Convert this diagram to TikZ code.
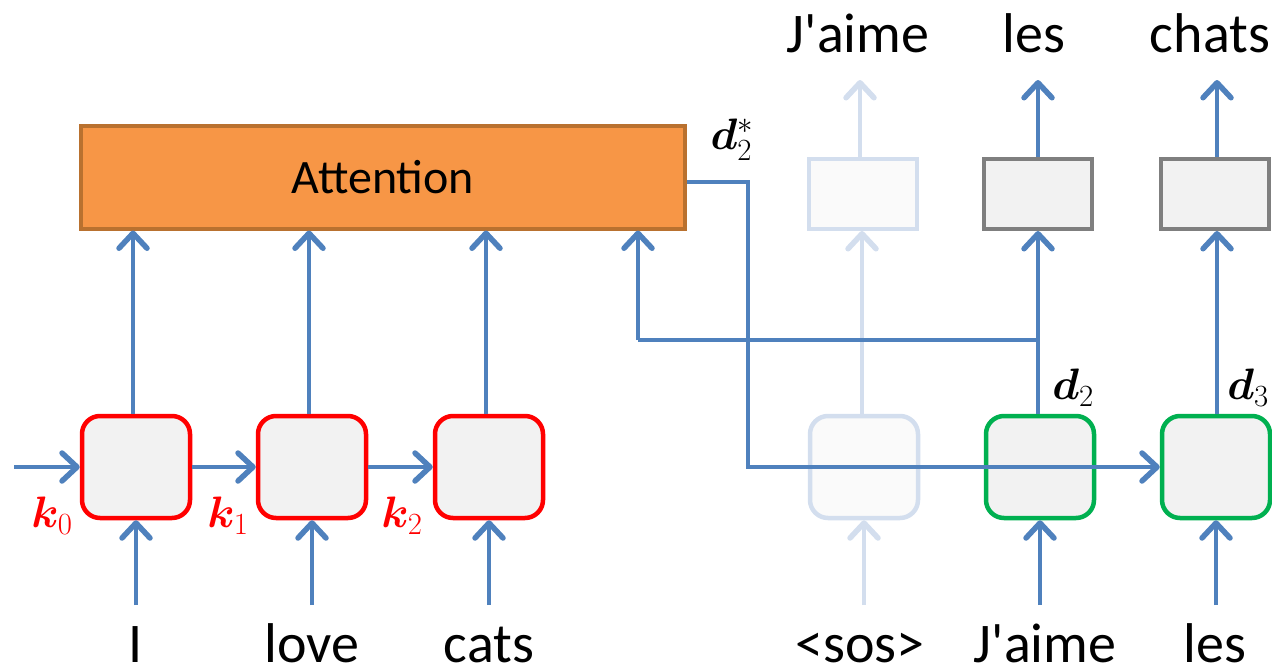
\RequirePackage{fix-cm}
\documentclass[tikz,border=0pt]{standalone}
\usepackage{amsmath,bm}
\usepackage{fontspec}
\setmainfont{Carlito}[Ligatures=TeXOff]
\usetikzlibrary{arrows.meta,calc}
\definecolor{ablue}{HTML}{4F81BD}
\definecolor{fblue}{HTML}{D3DEEE}
\definecolor{boxfill}{HTML}{F2F2F2}
\definecolor{ffill}{HTML}{FAFAFA}
\definecolor{aorange}{HTML}{F79646}
\definecolor{aorangeb}{HTML}{B9712F}
\definecolor{agreen}{HTML}{00B050}
\definecolor{agray}{HTML}{7F7F7F}
\begin{document}
\begin{tikzpicture}[x=1pt,y=-1pt,
  tip/.tip={Straight Barb[length=15pt,width=28pt,line width=1.5pt 1,line cap=round,line join=round]},
  arr/.style={draw=ablue,line width=4pt,-tip},
  ln/.style={draw=ablue,line width=4pt},
  farr/.style={draw=fblue,line width=4pt,-tip},
  rnn/.style={rectangle,rounded corners=18pt,fill=boxfill,line width=4.5pt,minimum width=108pt,minimum height=102pt,inner sep=0pt},
  enc/.style={rnn,draw=red},
  dec/.style={rnn,draw=agreen},
  fdec/.style={rnn,draw=fblue,fill=ffill},
  outb/.style={rectangle,fill=boxfill,draw=agray,line width=4pt,minimum width=108pt,minimum height=70pt,inner sep=0pt},
  foutb/.style={outb,draw=fblue,fill=ffill},
  word/.style={anchor=base,inner sep=0pt,font=\fontsize{56}{62}\selectfont},
  lab/.style={inner sep=0pt,font=\fontsize{44}{50}\selectfont},
]
\useasboundingbox (0,0) rectangle (1272,672);

% encoder
\node[enc] (e1) at (136,467) {};
\node[enc] (e2) at (312,467) {};
\node[enc] (e3) at (489,467) {};
\node[rectangle,fill=aorange,draw=aorangeb,line width=4pt,minimum width=604pt,minimum height=103pt,inner sep=0pt,font=\fontsize{48}{54}\selectfont] (att) at (383,177) {Attention};

\coordinate (in0) at (14,467);
\draw[arr] (in0) -- (e1.west);
\draw[arr] (e1.east) -- (e2.west);
\draw[arr] (e2.east) -- (e3.west);

\node[lab,text=red] (k0) at (52,516) {$\boldsymbol{k}_0$};
\node[lab,text=red] (k1) at (228,516) {$\boldsymbol{k}_1$};
\node[lab,text=red] (k2) at (402,516) {$\boldsymbol{k}_2$};

\node[word] (wI) at (136,662) {I};
\node[word] (wlove) at (312,662) {love};
\node[word] (wcats) at (489,662) {cats};

\foreach \b in {e1,e2,e3}{
  \draw[arr] (\b.south |- 0,605) -- (\b.south);
  \draw[arr] ([xshift=-3pt]\b.north) -- ([xshift=-3pt]\b.north |- att.south);
}

% decoder
\node[fdec] (d1) at (864,467) {};
\node[dec] (d2) at (1040,467) {};
\node[dec] (d3) at (1216,467) {};
\node[foutb] (o1) at (863,194) {};
\node[outb] (o2) at (1038,194) {};
\node[outb] (o3) at (1215,194) {};

\node[word] (tJ) at (858,52) {J'aime};
\node[word] (tles) at (1034,52) {les};
\node[word] (tchats) at (1210,52) {chats};

\node[word] (bsos) at (860,662) {<sos>};
\node[word] (bJ) at (1045,662) {J'aime};
\node[word] (bles) at (1215,662) {les};

% faded column
\draw[farr] (d1.south |- 0,605) -- (d1.south);
\draw[farr] ([xshift=-2pt]d1.north) -- ([xshift=-2pt]d1.north |- o1.south);
\draw[farr] ([xshift=-3pt]o1.north) -- ([xshift=-3pt]o1.north |- 0,80);

% active columns
\draw[arr] (d2.south |- 0,605) -- (d2.south);
\draw[arr] (d3.south |- 0,605) -- (d3.south);
\draw[arr] ([xshift=-2pt]d2.north) -- ([xshift=-2pt]d2.north |- o2.south);
\draw[arr] ([xshift=1pt]d3.north) -- ([xshift=1pt]d3.north |- o3.south);
\draw[arr] (o2.north) -- (o2.north |- 0,80);
\draw[arr] ([xshift=2pt]o3.north) -- ([xshift=2pt]o3.north |- 0,80);

% d2 to attention
\coordinate (j2) at ([xshift=-2pt]d2.north |- 0,340);
\coordinate (jl) at (638,340);
\draw[ln] (j2) -- (jl);
\draw[arr] (jl) -- (jl |- att.south);

% d2* path
\coordinate (c1) at (748,182);
\draw[arr] (att.east |- c1) -- (c1) -- (c1 |- d3.west) -- (d3.west);

\node[lab] (ds) at (732,140) {$\boldsymbol{d}_2^*$};
\node[lab] (dd2) at (1073,388) {$\boldsymbol{d}_2$};
\node[lab] (dd3) at (1248,388) {$\boldsymbol{d}_3$};
\end{tikzpicture}
\end{document}
